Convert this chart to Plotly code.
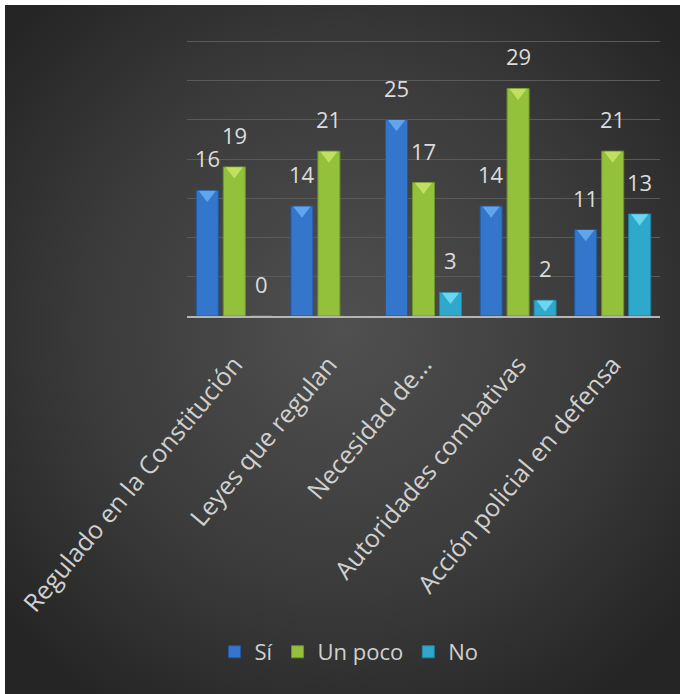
import base64
import plotly.graph_objects as go

categories = ["Regulado en la Constitución", "Leyes que regulan", "Necesidad de...",
              "Autoridades combativas", "Acción policial en defensa"]
si = [16, 14, 25, 14, 11]
un_poco = [19, 21, 17, 29, 21]
no = [0, None, 3, 2, 13]
series_names = ["Sí", "Un poco", "No"]
series_values = [si, un_poco, no]
colors = ["#3476cc", "#93c13b", "#2ea9cc"]
edge_colors = ["#24589e", "#6f9428", "#1f86a6"]
bevel_colors = ["#6aaef2", "#c9e56b", "#74def4"]

W, H = 683, 694
L, R, T, B = 187, 23, 39, 378
pw, ph = W - L - R, H - T - B
YMAX = 35.3
px_per_unit = ph / YMAX

svg = f'''<svg xmlns="http://www.w3.org/2000/svg" width="{W}" height="{H}" viewBox="0 0 {W} {H}" preserveAspectRatio="none">
<defs><radialGradient id="g" cx="50%" cy="47%" r="65%">
<stop offset="0" stop-color="#505050"/><stop offset="0.6" stop-color="#3a3a3a"/><stop offset="1" stop-color="#252525"/>
</radialGradient></defs>
<rect x="0" y="0" width="{W}" height="{H}" fill="#ffffff"/>
<rect x="5" y="5" width="{W-8}" height="{H-5}" fill="url(#g)"/>
</svg>'''
src = "data:image/svg+xml;base64," + base64.b64encode(svg.encode()).decode()

fig = go.Figure()
for i, (name, vals, c, ec) in enumerate(zip(series_names, series_values, colors, edge_colors)):
    fig.add_trace(go.Bar(x=categories, y=vals, name=name,
                         offsetgroup=str(i), alignmentgroup="g",
                         marker=dict(color=c, line=dict(color=ec, width=1))))

# bevel tips at the top of each bar (drawn from the same values)
bevel_shift = 4 / px_per_unit
for i, (vals, bc) in enumerate(zip(series_values, bevel_colors)):
    fig.add_trace(go.Scatter(
        x=categories,
        y=[None if (v is None or v == 0) else v - bevel_shift for v in vals],
        mode="markers", offsetgroup=str(i), alignmentgroup="g",
        showlegend=False, hoverinfo="skip",
        marker=dict(symbol="triangle-down", size=15, color=bc, opacity=0.85,
                    line=dict(width=0))))

slot = 27
annotations = []
for i, vals in enumerate(series_values):
    for cat, v in zip(categories, vals):
        if v is None:
            continue
        annotations.append(dict(x=cat, y=v, xref="x", yref="y", text=str(v),
                                showarrow=False, xshift=(i - 1) * slot, yshift=32,
                                yanchor="middle",
                                font=dict(family="Open Sans", size=22, color="#dcdcdc")))

fig.update_layout(
    width=W, height=H,
    margin=dict(l=L, r=R, t=T, b=B, pad=0),
    paper_bgcolor="#ffffff",
    plot_bgcolor="rgba(0,0,0,0)",
    barmode="group", bargap=0.144, bargroupgap=0.185,
    scattermode="group", scattergap=0.144,
    images=[dict(source=src, xref="paper", yref="paper",
                 x=-L / pw, y=(ph + T) / ph, sizex=W / pw, sizey=H / ph,
                 xanchor="left", yanchor="top", sizing="stretch", layer="below")],
    xaxis=dict(showline=True, linecolor="#b5b5b5", linewidth=2, showgrid=False,
               tickangle=-50, ticks="", ticklabelstandoff=22,
               tickfont=dict(family="Open Sans", size=25, color="#d0d0d0")),
    yaxis=dict(range=[0, YMAX], dtick=5, showgrid=True, gridcolor="#5a5a5a", gridwidth=1,
               showticklabels=False, zeroline=False, showline=False),
    legend=dict(orientation="h", x=(349 - L) / pw, xanchor="center",
                y=(316 - 652) / ph, yanchor="middle",
                font=dict(family="Open Sans", size=22, color="#d0d0d0"),
                bgcolor="rgba(0,0,0,0)", itemwidth=30, traceorder="normal"),
    annotations=annotations,
    showlegend=True,
)

fig.write_html("out.html", config={"displayModeBar": False},
               post_script="document.body.style.margin='0px';")
